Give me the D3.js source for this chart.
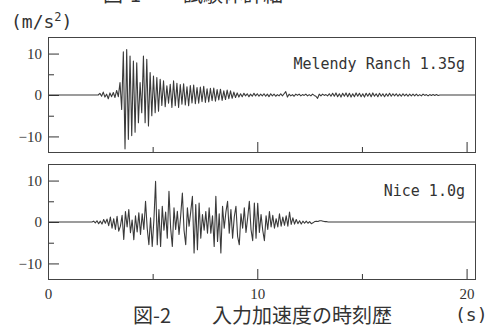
<!DOCTYPE html>
<html>
<head>
<meta charset="utf-8">
<script src="https://cdn.jsdelivr.net/npm/d3@7"></script>
<style>
  body { margin: 0; background: #fff; }
  svg { display: block; }
</style>
</head>
<body>
<div id="chart"></div>
<script>
// input accelerations (m/s2), sampled from the figure
const melendyStart = 2.4;
const melendyStep = 0.08;
const melendyAcc = [
  0.0, 0.4, -0.3, 0.7, -0.5, 0.2, -0.9, 0.5, -0.4, 0.6,
  -0.6, 1.1, -0.4, 3.0, -3.5, 10.4, -13.0, 11.0, -10.7, 9.4,
  -9.8, 8.2, -9.0, 7.8, -6.7, 3.0, -4.3, 9.4, -6.7, 8.6,
  -7.5, 5.4, -5.0, 4.6, -4.3, 4.2, -3.9, 3.8, -2.5, 3.4,
  -2.8, 2.2, -2.0, 2.6, -3.0, 3.4, -2.6, 2.8, -3.0, 2.5,
  -2.2, 2.7, -2.4, 2.0, -2.6, 2.3, -1.9, 2.4, -2.1, 1.8,
  -2.0, 1.9, -1.6, 2.1, -1.8, 1.5, -1.7, 1.6, -1.4, 1.7,
  -1.5, 1.3, -1.2, 1.4, -1.3, 1.0, -1.1, 1.2, -0.9, 1.0,
  -0.8, 0.7, -0.6, 0.5, -0.5, 0.3, -0.4, 0.4, -0.2, 0.3,
  -0.4, 0.2, -0.3, 0.4, -0.2, 0.3, -0.3, 0.2, -0.2, 0.3,
  -0.3, 0.2, -0.4, 0.3, -0.2, 0.2, -0.3, 0.1, -0.2, 0.3,
  -0.2, 0.3, 0.8, -0.5, 0.2, -0.2, 0.1, -0.3, 0.2, -0.1,
  0.2, -0.2, 0.1, -0.1, 0.2, -0.2, 0.1, -0.2, 0.2, -0.1,
  -0.3, -0.8, 0.2, -0.2, 0.2, -0.1, 0.1, -0.2, 0.3, -0.3,
  0.4, -0.3, 0.5, -0.4, 0.3, -0.5, 0.4, -0.3, 0.5, -0.4,
  0.4, -0.5, 0.3, -0.4, 0.5, -0.3, 0.4, -0.4, 0.3, -0.5,
  0.4, -0.3, 0.4, -0.4, 0.5, -0.3, 0.3, -0.4, 0.4, -0.3,
  0.3, -0.4, 0.3, -0.3, 0.4, -0.3, 0.3, -0.2, 0.3, -0.3,
  0.2, -0.3, 0.3, -0.2, 0.2, -0.3, 0.2, -0.2, 0.2, -0.2,
  0.2, -0.2, 0.1, -0.2, 0.2, -0.1, 0.1, -0.2, 0.1, -0.1,
  0.1, -0.1, 0.1, -0.1, 0.0, 0.0
];

const niceStart = 2.1;
const niceStep = 0.08;
const niceAcc = [
  0.0, 0.2, -0.2, 0.3, -0.4, 0.2, -0.5, 0.6, -0.3, 0.7,
  -0.9, 1.2, -1.5, 0.8, -1.8, 1.4, -2.2, -1.0, 1.6, -4.2,
  2.5, -1.2, 3.0, -2.6, 0.5, -4.3, 1.5, -2.4, 2.2, -3.0,
  2.0, -1.8, 5.0, -1.5, -5.5, 1.0, -5.9, 0.5, 9.8, -5.5,
  3.0, -5.9, 3.8, -2.0, 2.4, -3.9, 7.4, -1.5, -5.9, 3.4,
  -1.8, 2.6, -3.0, 1.5, 7.0, -2.0, -5.5, 3.4, -1.0, 2.5,
  6.2, -7.5, 4.2, -6.7, 4.6, -3.9, 1.8, -2.0, 2.5, -2.7,
  3.4, -2.7, 1.5, -5.9, 6.2, -4.7, 2.0, -7.5, 3.8, -1.5,
  2.4, 5.0, -2.7, 3.0, -3.9, 1.2, 3.8, -3.5, -5.5, 2.0,
  -1.5, 3.4, -2.5, 1.0, 5.0, -1.8, -4.5, 4.6, -3.9, 4.5,
  -2.5, 1.8, -2.0, -4.5, 1.5, -1.8, 2.5, -1.2, 1.6, -1.5,
  0.8, -1.2, 2.0, -1.0, 1.2, -0.8, 1.5, -1.0, 2.4, -0.6,
  1.0, -0.5, 0.6, -0.4, 0.3, -0.5, 0.2, -0.3, 0.2, -0.3,
  0.1, -0.4, -0.2, 0.1, 0.2, 0.1, 0.3, 0.3, 0.2, 0.1,
  0.1, 0.0, 0.0
];

const recordNames = ['Melendy Ranch 1.35g', 'Nice 1.0g'];
const timeEnd = 20.45;
const yTicks = [-10, 0, 10];
const yMinorTicks = [-5, 5];
const xTicks = [0, 10, 20];
const xMinorTicks = [5, 15];

const width = 488;
const height = 326;
const panelH = 116;
const panelTops = [37, 164];
const left = 48;
const right = 476;

function toPoints(start, step, acc) {
  const pts = [[0, 0]];
  acc.forEach((a, i) => pts.push([start + i * step, a]));
  pts.push([timeEnd, 0]);
  return pts;
}

const records = [
  { name: recordNames[0], points: toPoints(melendyStart, melendyStep, melendyAcc) },
  { name: recordNames[1], points: toPoints(niceStart, niceStep, niceAcc) },
];

const svg = d3.select('#chart')
  .append('svg')
    .attr('width', width)
    .attr('height', height);

svg.append('rect')
  .attr('width', width)
  .attr('height', height)
  .attr('fill', '#fff');

const x = d3.scaleLinear().domain([0, timeEnd]).range([left, right]);

const ink = '#333';
const serif = '"Liberation Serif", "DejaVu Serif", serif';
const mono = '"DejaVu Sans Mono", "Liberation Mono", monospace';
const jp = '"Noto Sans CJK JP", "Noto Sans CJK SC", sans-serif';

records.forEach((rec, k) => {
  const top = panelTops[k];
  const y = d3.scaleLinear().domain([-14, 14]).range([top + panelH, top]);
  const g = svg.append('g');

  // trace
  g.append('path')
    .datum(rec.points)
    .attr('fill', 'none')
    .attr('stroke', '#3a3a3a')
    .attr('stroke-width', 1.1)
    .attr('stroke-linejoin', 'round')
    .attr('d', d3.line().x(d => x(d[0])).y(d => y(d[1])));

  // y ticks, drawn inside the frame
  g.append('g')
    .attr('transform', `translate(${left},0)`)
    .call(d3.axisLeft(y).tickValues(yTicks).tickSize(-11).tickPadding(6));
  g.append('g')
    .attr('transform', `translate(${left},0)`)
    .call(d3.axisLeft(y).tickValues(yMinorTicks).tickSize(-6).tickFormat(''));

  // x ticks, pointing up from the bottom edge
  g.append('g')
    .attr('transform', `translate(0,${top + panelH})`)
    .call(d3.axisBottom(x).tickValues(xTicks).tickSize(-11).tickPadding(8)
      .tickFormat(k === records.length - 1 ? d3.format('d') : ''));
  g.append('g')
    .attr('transform', `translate(0,${top + panelH})`)
    .call(d3.axisBottom(x).tickValues(xMinorTicks).tickSize(-6).tickFormat(''));

  g.selectAll('.domain').remove();
  g.selectAll('.tick line').attr('stroke', ink).attr('stroke-width', 1);
  g.selectAll('.tick text')
    .attr('fill', ink)
    .style('font-family', serif)
    .style('font-size', '15px');

  // frame
  g.append('rect')
    .attr('x', left + 0.5)
    .attr('y', top + 0.5)
    .attr('width', right - left - 1)
    .attr('height', panelH - 1)
    .attr('fill', 'none')
    .attr('stroke', '#444')
    .attr('stroke-width', 1);

  g.append('text')
    .attr('x', 465)
    .attr('y', top + 32)
    .attr('text-anchor', 'end')
    .attr('fill', ink)
    .style('font-family', mono)
    .style('font-size', '15px')
    .text(rec.name);
});

// unit label
const unit = svg.append('text')
  .attr('x', 11)
  .attr('y', 28)
  .attr('fill', ink)
  .style('font-family', mono)
  .style('font-size', '18px');
unit.append('tspan').text('(m/s');
unit.append('tspan').attr('dy', -7).style('font-size', '12px').text('2');
unit.append('tspan').attr('dy', 7).text(')');

// captions
const caption = (tx, ty, str) => svg.append('text')
  .attr('x', tx)
  .attr('y', ty)
  .attr('fill', ink)
  .style('font-family', jp)
  .style('font-size', '20px')
  .text(str);

caption(103, 2, '図-1');
caption(183, 2, '試験体詳細');
caption(133, 323, '図-2');
caption(212, 323, '入力加速度の時刻歴');

svg.append('text')
  .attr('x', 455)
  .attr('y', 321)
  .attr('fill', ink)
  .style('font-family', mono)
  .style('font-size', '18px')
  .text('(s)');
</script>
</body>
</html>
